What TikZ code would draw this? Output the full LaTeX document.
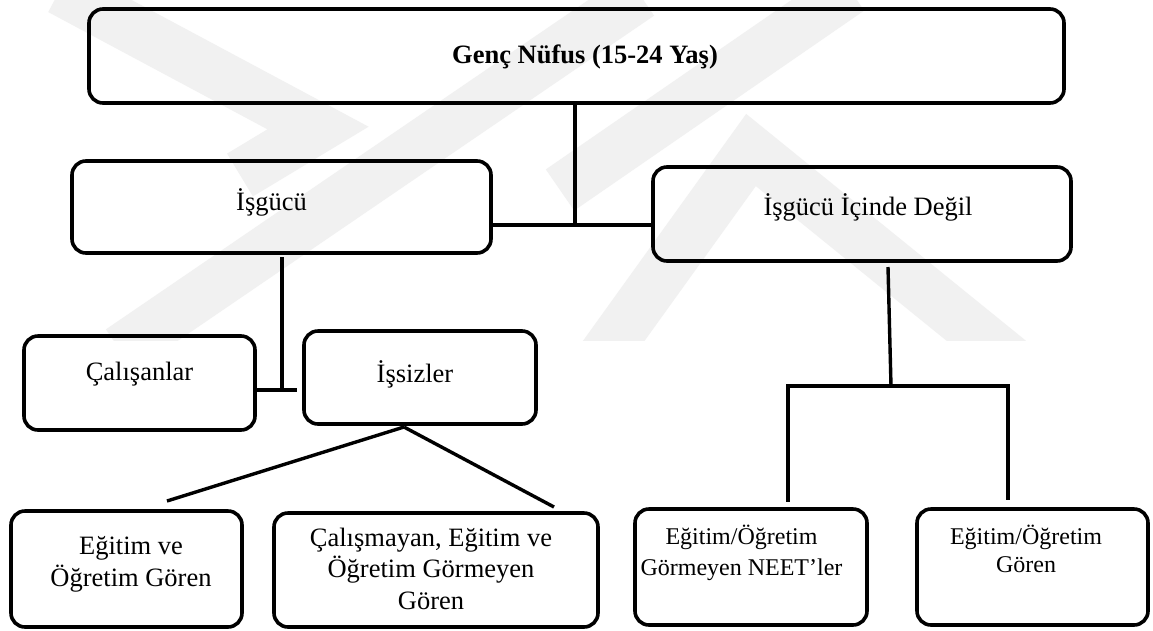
\documentclass[tikz,border=0pt]{standalone}
\usepackage{fontspec}
\setmainfont{Liberation Serif}
\usetikzlibrary{calc}
\definecolor{wm}{RGB}{241,241,241}
\tikzset{
  box/.style={draw=black, line width=3.6pt, rounded corners=14pt, inner sep=0pt, outer sep=0pt},
  conn/.style={draw=black, line width=3.4pt},
  lbl/.style={anchor=base, inner sep=0pt, outer sep=0pt, align=center, font=\fontsize{26.5}{31.5}\selectfont},
  lblsmall/.style={lbl, font=\fontsize{24}{30}\selectfont},
  wmark/.style={draw=wm, line width=50pt},
}
\begin{document}
\begin{tikzpicture}[x=1pt,y=-1pt]
\useasboundingbox (0,0) rectangle (1153,630);
\fill[white] (0,0) rectangle (1153,630);
% watermark
\begin{scope}
\clip (0,0) rectangle (1153,340);
\draw[wmark] (60,-10) -- (318,128) -- (240,175);
\draw[wmark] (640,-5) -- (120,350);
\draw[wmark] (850,-10) -- (560,190);
\draw[wmark] (600,360) -- (751,150) -- (1010,360);
\end{scope}
% boxes
\node[box, minimum width=975pt, minimum height=94pt] (top) at (576.5,56) {};
\node[box, minimum width=419pt, minimum height=92pt] (isg) at (281.5,207) {};
\node[box, minimum width=418pt, minimum height=94pt] (ici) at (862,214) {};
\node[box, minimum width=231pt, minimum height=94pt] (cal) at (139.5,383) {};
\node[box, minimum width=232pt, minimum height=93pt] (iss) at (420,377.5) {};
\node[box, minimum width=231pt, minimum height=116pt] (b1) at (126.5,569) {};
\node[box, minimum width=324pt, minimum height=114pt] (b2) at (436,570) {};
\node[box, minimum width=232pt, minimum height=116pt] (b3) at (751,567) {};
\node[box, minimum width=231pt, minimum height=116pt] (b4) at (1032.5,567) {};
% texts (multi-line texts are placed by the baseline of their last line)
\node[lbl, font=\fontsize{26.5}{31.5}\selectfont\bfseries] (ttop) at (585,63) {Genç Nüfus (15-24 Yaş)};
\node[lbl] (tisg) at (271.5,210) {İşgücü};
\node[lbl] (tici) at (868,215) {İşgücü İçinde Değil};
\node[lbl] (tcal) at (139.5,380) {Çalışanlar};
\node[lbl] (tiss) at (415,382) {İşsizler};
\node[lbl, font=\fontsize{26.5}{32}\selectfont] (tb1) at (131,586) {Eğitim ve\\Öğretim Gören};
\node[lbl] (tb2) at (431,609) {Çalışmayan, Eğitim ve\\Öğretim Görmeyen\\Gören};
\node[lblsmall, font=\fontsize{24}{31}\selectfont] (tb3) at (741.5,575) {Eğitim/Öğretim\\Görmeyen NEET’ler};
\node[lblsmall, font=\fontsize{24}{28}\selectfont] (tb4) at (1026,572) {Eğitim/Öğretim\\Gören};
% connector coordinates
\coordinate (j1) at (575,225);
\coordinate (j2) at (282,390);
\coordinate (j3) at (297,390);
\coordinate (ap) at (404,427);
\coordinate (e1) at (167,501);
\coordinate (e2) at (554,507);
\coordinate (k0) at (888,267);
\coordinate (k1) at (891,386);
\coordinate (kl) at (788,386);
\coordinate (kr) at (1008,386);
\coordinate (kle) at (788,502);
\coordinate (kre) at (1008,500);
% connectors
\draw[conn] (top.south -| j1) -- (j1);
\draw[conn] (isg.east |- j1) -- (ici.west |- j1);
\draw[conn] ($(isg.south -| j2)+(0,4)$) -- ($(j2)+(0,-2)$);
\draw[conn] (cal.east |- j3) -- (j3);
\draw[conn] (ap) -- (e1);
\draw[conn] (ap) -- (e2);
\draw[conn] (k0) -- (k1);
\draw[conn] ($(kl)+(-1.7,0)$) -- ($(kr)+(1.7,0)$);
\draw[conn] (kl) -- (kle);
\draw[conn] (kr) -- (kre);
\end{tikzpicture}
\end{document}
